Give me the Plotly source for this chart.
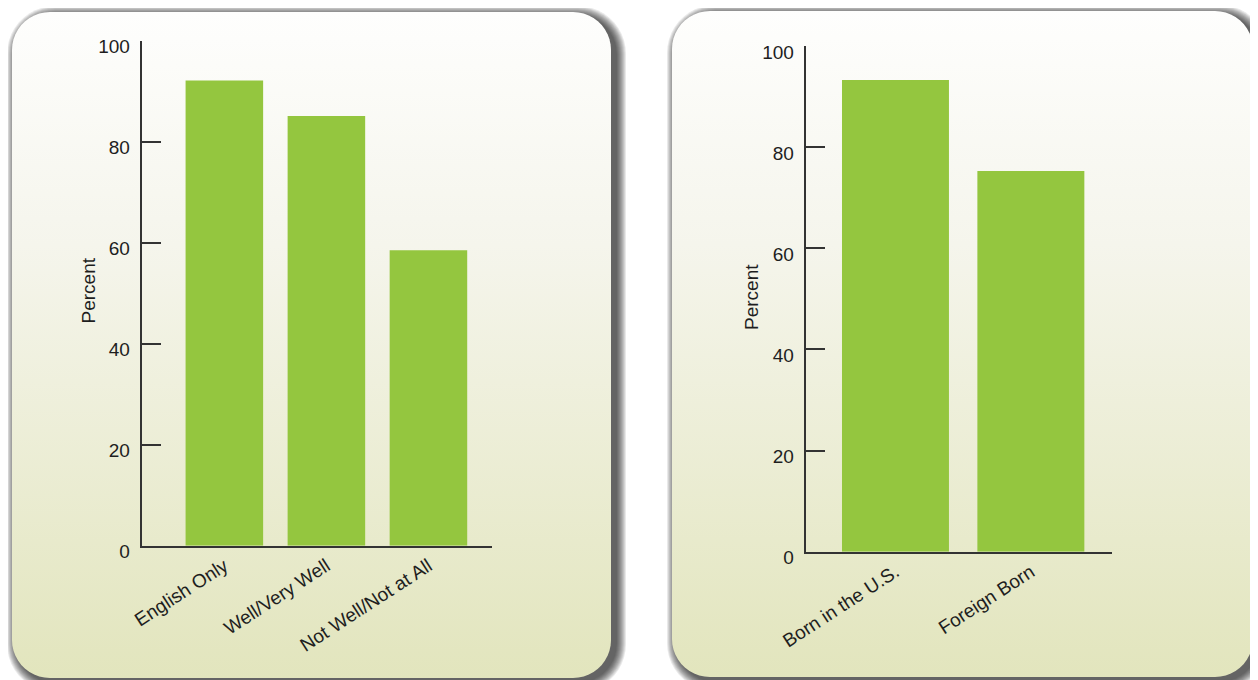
import numpy as np
import plotly.graph_objects as go

# data
lang_cats = ["English Only", "Well/Very Well", "Not Well/Not at All"]
lang_pct = [92.1, 85.1, 58.5]

birth_cats = ["Born in the U.S.", "Foreign Born"]
birth_pct = [93.3, 75.3]

y_ticks = [0, 20, 40, 60, 80, 100]

W, H = 1258, 680
OFF = 8  # the page body has an 8px margin, so the figure starts at (8, 8)
GREEN = "#94c63f"
INK = "#1e1e1e"
FONT = "Liberation Sans, Arial, Helvetica, sans-serif"


def fx(px):
    return (px - OFF) / W


def fy(py):
    return 1 - (py - OFF) / H


def rounded_rect(x0, y0, x1, y1, r, n=12):
    # polygon of a rounded rectangle, in window pixels (y grows downwards)
    xs, ys = [], []
    corners = [(x1 - r, y0 + r, -90, 0), (x1 - r, y1 - r, 0, 90),
               (x0 + r, y1 - r, 90, 180), (x0 + r, y0 + r, 180, 270)]
    for cx, cy, a0, a1 in corners:
        t = np.radians(np.linspace(a0, a1, n))
        xs += list(cx + r * np.cos(t))
        ys += list(cy + r * np.sin(t))
    xs.append(xs[0])
    ys.append(ys[0])
    return xs, ys


panels = [(12, 12, 611, 678), (672, 11, 1253, 677)]

fig = go.Figure()

# soft drop shadows behind the two cards
for x0, y0, x1, y1 in panels:
    for i in range(1, 11):
        xs, ys = rounded_rect(x0 + 5 - i, y0 + 4 - i, x1 + 5 + i, y1 + 4 + i, 38 + i)
        fig.add_trace(go.Scatter(x=xs, y=ys, fill="toself", mode="lines",
                                 line=dict(width=0), fillcolor="rgba(0,0,0,0.085)",
                                 hoverinfo="skip", showlegend=False,
                                 xaxis="x", yaxis="y"))

# the cards with their white to pale olive gradient
for x0, y0, x1, y1 in panels:
    xs, ys = rounded_rect(x0, y0, x1, y1, 38)
    fig.add_trace(go.Scatter(x=xs, y=ys, fill="toself", mode="lines",
                             line=dict(width=0),
                             fillgradient=dict(type="vertical", start=y0, stop=y1,
                                               colorscale=[[0, "#fefefd"], [0.35, "#f5f5ec"],
                                                           [1, "#e2e5bd"]]),
                             hoverinfo="skip", showlegend=False,
                             xaxis="x", yaxis="y"))

fig.add_trace(go.Bar(x=lang_cats, y=lang_pct, marker=dict(color=GREEN, line=dict(width=0)),
                     width=0.76, showlegend=False, xaxis="x2", yaxis="y2"))
fig.add_trace(go.Bar(x=birth_cats, y=birth_pct, marker=dict(color=GREEN, line=dict(width=0)),
                     width=0.79, showlegend=False, xaxis="x3", yaxis="y3"))

yax = dict(range=[0, 100], tickvals=y_ticks, ticks="inside", ticklen=19, tickwidth=2,
           tickcolor="#333", showline=True, linecolor="#333", linewidth=2,
           showgrid=False, zeroline=False, ticklabelstandoff=6, ticklabelshift=6,
           automargin=False,
           tickfont=dict(size=19, color=INK, family=FONT), fixedrange=True)
xax = dict(type="category", showline=True, linecolor="#333", linewidth=2, ticks="",
           showgrid=False, zeroline=False, tickangle=-33, ticklabelstandoff=0,
           automargin=False,
           tickfont=dict(size=19, color=INK, family=FONT), fixedrange=True)

# y titles as annotations so they sit as close to the axis as in the original
titles = [dict(text="Percent", x=fx(88), y=fy(290.5)),
          dict(text="Percent", x=fx(751), y=fy(297))]
for t in titles:
    t.update(xref="paper", yref="paper", textangle=-90, showarrow=False,
             xanchor="center", yanchor="middle",
             font=dict(size=19, color=INK, family=FONT))

fig.update_layout(
    width=W, height=H, autosize=False,
    margin=dict(l=0, r=0, t=0, b=0, pad=0),
    paper_bgcolor="white", plot_bgcolor="rgba(0,0,0,0)",
    font=dict(family=FONT),
    annotations=titles,
    xaxis=dict(domain=[0, 1], range=[OFF, W + OFF], visible=False, fixedrange=True,
               automargin=False),
    yaxis=dict(domain=[0, 1], range=[H + OFF, OFF], visible=False, fixedrange=True,
               automargin=False),
    xaxis2=dict(xax, domain=[fx(141.7), fx(491.7)], range=[-0.81, 2.62], anchor="y2"),
    yaxis2=dict(yax, domain=[fy(545.7), fy(40.7)], anchor="x2"),
    xaxis3=dict(xax, domain=[fx(805.7), fx(1111.7)], range=[-0.663, 1.597], anchor="y3"),
    yaxis3=dict(yax, domain=[fy(551.7), fy(46)], anchor="x3"),
)

fig.write_html("out.html")
